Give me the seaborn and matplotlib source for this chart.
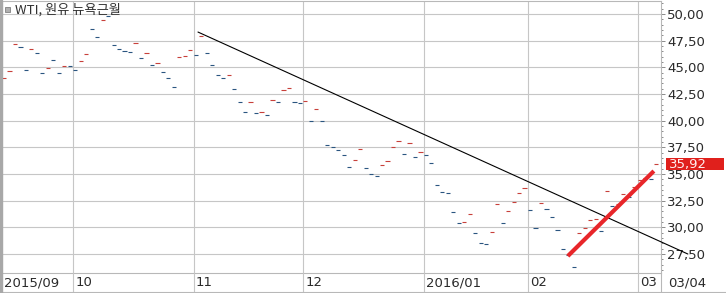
import numpy as np
import pandas as pd
import matplotlib
matplotlib.use("Agg")
import matplotlib.pyplot as plt
import matplotlib.ticker as mticker
import matplotlib.transforms as mtransforms
from matplotlib.patches import Rectangle
from matplotlib.lines import Line2D
import seaborn as sns

# ---------------- data ----------------
closes = [
    44.00, 44.66, 47.19, 46.91, 44.75, 46.72, 46.34, 44.47, 44.94, 45.69,
    44.47, 45.12, 45.09, 44.75, 45.59, 46.25, 48.59, 47.84, 49.44, 49.81,
    47.09, 46.72, 46.53, 46.44, 47.28, 45.87, 46.34, 45.22, 45.41, 44.56,
    44.00, 43.16, 45.97, 46.06, 46.63, 46.16, 47.94, 46.34, 45.22, 44.28,
    44.00, 44.28, 42.97, 41.75, 40.81, 41.75, 40.72, 40.81, 40.53, 41.94,
    41.75, 42.88, 43.06, 41.75, 41.66, 41.84, 39.97, 41.09, 39.97, 37.72,
    37.53, 37.25, 36.78, 35.66, 36.31, 37.34, 35.56, 35.00, 34.81, 35.84,
    36.22, 37.53, 38.09, 36.88, 37.91, 36.59, 37.06, 36.78, 36.03, 33.97,
    33.31, 33.22, 31.44, 30.44, 30.48, 31.25, 29.47, 28.53, 28.44, 29.56,
    32.19, 30.41, 31.53, 32.38, 33.22, 33.69, 31.63, 29.94, 32.28, 31.72,
    30.97, 29.75, 27.97, 27.41, 26.28, 29.47, 29.94, 30.69, 30.78, 29.66,
    33.41, 32.00, 32.19, 33.13, 32.84, 33.78, 34.40, 34.66, 34.57, 35.92,
]
direction_codes = (
    "RRRBBRBBRB" "BRBBRRBBRB" "BBBBRBRBRB" "BBRRRBRBBB"
    "BRBBBRBRBR" "BRRBBRBRBB" "BBBBRRBBBR" "RRRBRBRBBB"
    "BBBBRRBBBR" "RBRRRRBBRB" "BBBBBRRRRB" "RBRRBRRRBR"
)
direction = ["up" if c == "R" else "down" for c in direction_codes]

month_labels = ["2015/09", "10", "11", "12", "2016/01", "02", "03"]
month_start_idx = [0, 13, 35, 55, 77, 96, 116]
last_label = "03/04"
last_price = 35.92

# trend lines drawn by the user (index, price)
down_trend_x = [35.4, 124.8]
down_trend_y = [48.31, 27.50]
up_trend_x = [102.9, 118.6]
up_trend_y = [27.31, 35.28]

title = "WTI, 원유 뉴욕근월"

# ---------------- style ----------------
sns.set_theme(style="white")
plt.rcParams["font.family"] = ["Liberation Sans Narrow", "DejaVu Sans Condensed", "DejaVu Sans"]

W, H = 726, 293
fig = plt.figure(figsize=(W / 100, H / 100), dpi=100)
fig.patch.set_facecolor("white")
ax = fig.add_axes([2 / W, 20 / H, 659 / W, 272 / H])
ax.set_facecolor("white")

df = pd.DataFrame({"idx": np.arange(len(closes)), "close": closes, "dir": direction})

GRID = "#c6c6c6"
RED = "#c8403a"
BLUE = "#2a5580"

sns.scatterplot(data=df, x="idx", y="close", hue="dir",
                palette={"up": RED, "down": BLUE}, marker="_", s=9,
                linewidth=0.8, legend=False, ax=ax, zorder=3)
ax.set_xlabel("")
ax.set_ylabel("")

ax.set_xlim(-0.365, 119.9)
ax.set_ylim(25.72, 51.22)

# grid
ax.set_yticks(np.arange(27.5, 50.01, 2.5))
ax.yaxis.set_minor_locator(mticker.MultipleLocator(0.5))
ax.yaxis.tick_right()
ax.yaxis.set_major_formatter(mticker.FuncFormatter(lambda v, p: f"{v:.2f}".replace(".", ",")))
ax.tick_params(axis="y", which="major", length=3.2, width=0.7, color="#8a8a8a",
               pad=1.2, labelsize=9.5, labelcolor="#2a2a2a")
ax.tick_params(axis="y", which="minor", length=1.6, width=0.7, color="#8a8a8a")
ax.grid(axis="y", which="major", color=GRID, lw=0.8)

grid_x = [k - 0.365 for k in month_start_idx[1:]]
for gx in grid_x:
    ax.axvline(gx, color=GRID, lw=0.8, zorder=0)

# x labels
ax.set_xticks([])
xl_trans = mtransforms.blended_transform_factory(ax.transData, fig.transFigure)
for k, lab in zip(month_start_idx, month_labels):
    ax.text(k, 10 / H, lab, transform=xl_trans, ha="left", va="center",
            fontsize=9.5, color="#2a2a2a", clip_on=False)
for gx in grid_x:
    fig.add_artist(Line2D([gx, gx], [0, 20 / H], transform=xl_trans, color=GRID, lw=0.8))
fig.text(668 / W, 10 / H, last_label, ha="left", va="center", fontsize=9.5, color="#2a2a2a")

# spines / frame
ax.spines["left"].set_visible(False)
for side in ["top", "bottom", "right"]:
    ax.spines[side].set_color("#b8b8b8")
    ax.spines[side].set_linewidth(0.8)
fig.add_artist(Line2D([661 / W, 661 / W], [0, 20 / H], transform=fig.transFigure, color="#b8b8b8", lw=0.8))
fig.add_artist(Line2D([0, 1], [0.6 / H, 0.6 / H], transform=fig.transFigure, color="#b8b8b8", lw=0.8))
fig.add_artist(Rectangle((0, 0), 2 / W, 1, transform=fig.transFigure, color="#a8a8a8", zorder=5))

# trend lines
ax.plot(down_trend_x, down_trend_y, color="black", lw=0.8, clip_on=False, zorder=4)
ax.plot(up_trend_x, up_trend_y, color="#e8262a", lw=3.0, solid_capstyle="butt", zorder=5)

# last price tag
tag_trans = mtransforms.blended_transform_factory(fig.transFigure, ax.transData)
ax.add_patch(Rectangle((666 / W, last_price - 0.58), 58 / W, 1.16, transform=tag_trans,
                       facecolor="#e0201c", edgecolor="none", clip_on=False, zorder=6))
ax.text(669 / W, last_price, f"{last_price:.2f}".replace(".", ","), transform=tag_trans,
        ha="left", va="center", fontsize=9.5, color="#fff0f0", zorder=7, clip_on=False)

# title with icon
fig.add_artist(Rectangle((4.5 / W, 1 - 12 / H), 5 / W, 5 / H, transform=fig.transFigure,
                         facecolor="#b0b0b0", edgecolor="#808080", lw=0.6, zorder=6))
fig.text(15 / W, 1 - 10 / H, title, ha="left", va="center", fontsize=9.5,
         family=["Noto Sans CJK KR", "DejaVu Sans"], color="#303030")

fig.savefig("out.png", dpi=100, facecolor="white")
